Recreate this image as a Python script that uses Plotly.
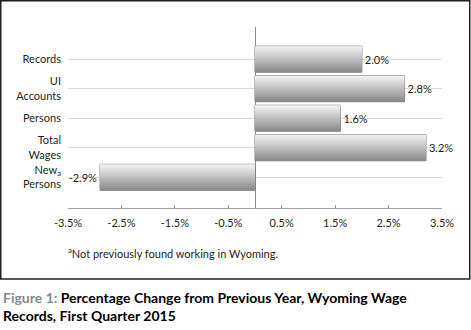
import plotly.graph_objects as go

categories = ["Records", "UI<br>Accounts", "Persons", "Total<br>Wages", "New<sub>a</sub><br>Persons"]
values = [2.0, 2.8, 1.6, 3.2, -2.9]
tick_vals = [-3.5, -2.5, -1.5, -0.5, 0.5, 1.5, 2.5, 3.5]
tick_text = ["-3.5%", "-2.5%", "-1.5%", "-0.5%", "0.5%", "1.5%", "2.5%", "3.5%"]
footnote = "<sup>a</sup>Not previously found working in Wyoming."
caption_prefix = "Figure 1: "
caption_body = "Percentage Change from Previous Year, Wyoming Wage<br>Records, First Quarter 2015"

W, H = 471, 330
L, R, T, B = 68, 29, 27, 122
PW, PH = W - L - R, H - T - B

def px(x):
    return (x - L) / PW

def py(y):
    return (H - B - y) / PH

FONT = "Lato"
INK = "#231f20"
half = 0.44
pos = list(range(len(categories)))

fig = go.Figure()
for i, v in zip(pos, values):
    fig.add_trace(go.Scatter(
        x=[0, v, v, 0, 0], y=[i - half, i - half, i + half, i + half, i - half],
        mode="lines", line=dict(width=0), fill="toself",
        fillgradient=dict(type="vertical",
                          colorscale=[[0, "#878787"], [0.55, "#c4c4c4"], [1, "#f4f4f4"]]),
        hoverinfo="skip", showlegend=False))

fig.add_trace(go.Bar(
    x=values, y=pos, orientation="h", width=2 * half,
    marker=dict(color="rgba(0,0,0,0)", line=dict(color="#7a7a7a", width=1)),
    texttemplate="%{x:.1f}%", textposition="outside", constraintext="none",
    textfont=dict(family=FONT, size=11, color=INK), cliponaxis=False,
    showlegend=False))

fig.update_layout(
    width=W, height=H, margin=dict(l=L, r=R, t=T, b=B),
    paper_bgcolor="white", plot_bgcolor="white",
    font=dict(family=FONT, size=11, color=INK),
    xaxis=dict(range=[-3.5, 3.5], tickvals=tick_vals, ticktext=tick_text,
               showgrid=False, zeroline=True, zerolinecolor="#8c8c8c", zerolinewidth=1,
               showline=True, linecolor="#a0a0a0", linewidth=1,
               ticks="inside", ticklen=3, tickcolor="#8c8c8c",
               ticklabelstandoff=5, tickfont=dict(size=11, color=INK)),
    yaxis=dict(range=[5.04, -1.09], tickvals=pos, ticktext=categories,
               showgrid=True, gridcolor="#d9d9d9", gridwidth=1, zeroline=False,
               ticks="", ticklabelstandoff=6, tickfont=dict(size=11, color=INK)),
    bargap=0.12,
)

fig.add_shape(type="rect", xref="paper", yref="paper",
              x0=px(0.75), x1=px(469.75), y0=py(0.75), y1=py(279),
              line=dict(color=INK, width=1.5), layer="above")

fig.add_annotation(xref="paper", yref="paper", x=px(66), y=py(252),
                   xanchor="left", yanchor="middle", showarrow=False,
                   text=footnote, font=dict(family=FONT, size=11, color=INK))

fig.add_annotation(xref="paper", yref="paper", x=px(1), y=py(287),
                   xanchor="left", yanchor="top", showarrow=False, align="left",
                   text=f"<b><span style='color:#8a8a8a'>{caption_prefix}</span>{caption_body}</b>",
                   font=dict(family=FONT, size=14, color="#000000"))

fig.write_html("out.html")
